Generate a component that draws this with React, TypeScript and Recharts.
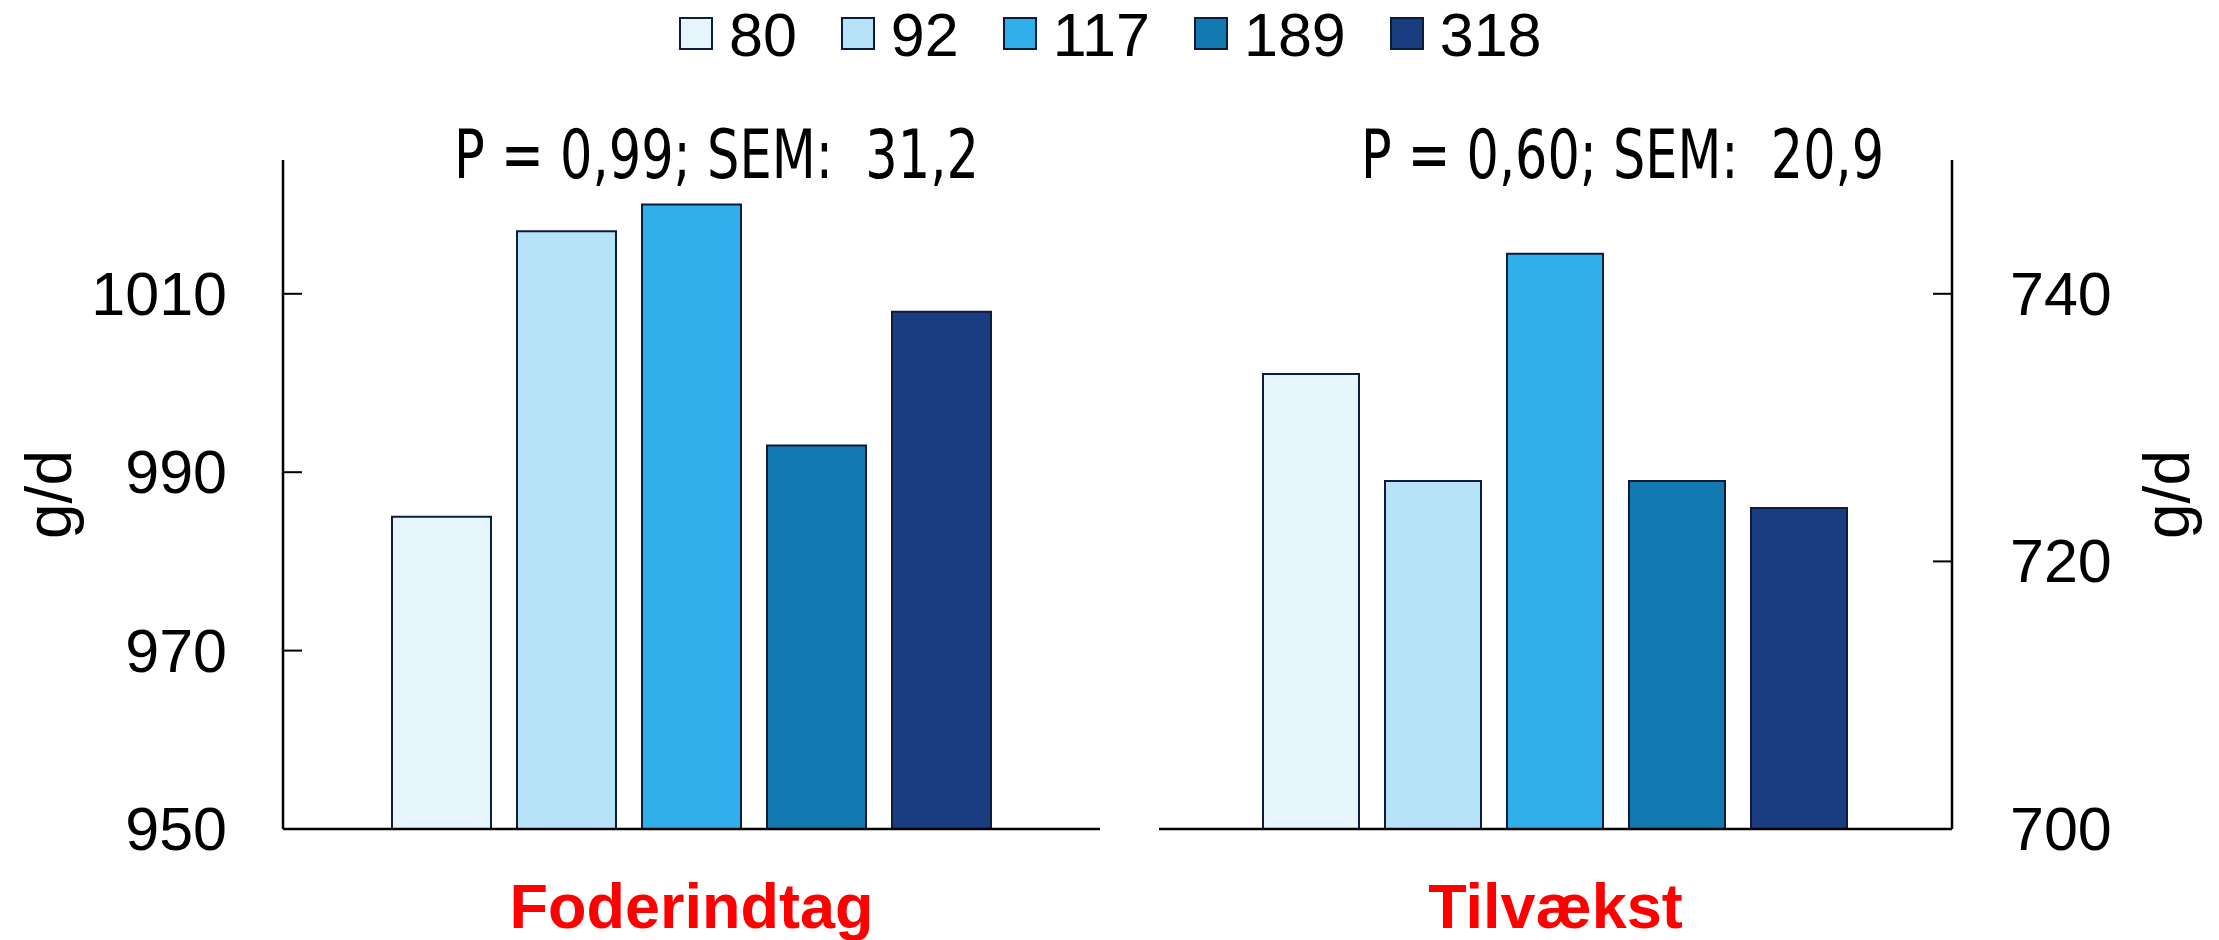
import React from 'react';
import { BarChart, Bar, XAxis, YAxis } from 'recharts';

// protein groups shown as the five bars in each panel
const GROUPS = ['80', '92', '117', '189', '318'];
const GROUP_COLORS = ['#E6F4FC', '#B5E2F7', '#31AFEA', '#127AB0', '#1A3C80'];

const FODERINDTAG = [985, 1017, 1020, 993, 1008];
const TILVAEKST = [734, 726, 743, 726, 724];

const FODER_TICKS = [950, 970, 990, 1010];
const TILV_TICKS = [700, 720, 740];
const FODER_DOMAIN: [number, number] = [950, 1025];
const TILV_DOMAIN: [number, number] = [700, 750];

const PANEL_NAMES = ['Foderindtag', 'Tilvækst'];
const STAT_LABELS = ['P = 0,99; SEM:  31,2', 'P = 0,60; SEM:  20,9'];
const UNIT = 'g/d';

const OUTLINE = '#0F1B3B';
const ARIAL = '"Liberation Sans", Arial, sans-serif';
const NARROW = '"Liberation Sans Narrow", "Arial Narrow", "DejaVu Sans Condensed", sans-serif';

function toRows(name: string, values: number[]) {
  const row: Record<string, string | number> = { name };
  GROUPS.forEach((g, i) => {
    row[`g${g}`] = values[i];
  });
  return [row];
}

// value tick: label outside, short tick line pointing into the plot
function ValueTick(props: any) {
  const { x, y, payload, side, gap } = props;
  const left = side === 'left';
  const axisX = left ? x + gap : x - gap;
  return (
    <g>
      <line x1={axisX} x2={left ? axisX + 19 : axisX - 19} y1={y} y2={y} stroke="#000" strokeWidth={2} />
      <text
        x={x}
        y={y}
        dy={21}
        textAnchor={left ? 'end' : 'start'}
        fontSize={61}
        fontFamily={ARIAL}
        fill="#000"
      >
        {payload.value}
      </text>
    </g>
  );
}

function CategoryTick(props: any) {
  const { x, y, payload } = props;
  return (
    <text x={x} y={y} textAnchor="middle" fontSize={63} fontWeight="bold" fontFamily={ARIAL} fill="#FF0000">
      {payload.value}
    </text>
  );
}

const unitLabel = (dx: number) => (props: any) => {
  const { viewBox } = props;
  const cx = viewBox.x + dx;
  const cy = viewBox.y + viewBox.height / 2;
  return (
    <text
      x={cx}
      y={cy}
      transform={`rotate(-90 ${cx} ${cy})`}
      textAnchor="middle"
      dominantBaseline="central"
      fontSize={64}
      fontFamily={ARIAL}
      fill="#000"
    >
      {UNIT}
    </text>
  );
};

interface PanelProps {
  name: string;
  values: number[];
  domain: [number, number];
  ticks: number[];
  side: 'left' | 'right';
  width: number;
  margin: { top: number; right: number; bottom: number; left: number };
  axisWidth: number;
  tickGap: number;
  unitDx: number;
  categoryGap: number;
}

function Panel(p: PanelProps) {
  const data = toRows(p.name, p.values);
  return (
    <BarChart width={p.width} height={940} data={data} margin={p.margin} barGap={26} barCategoryGap={p.categoryGap}>
      <XAxis
        dataKey="name"
        type="category"
        height={111}
        interval={0}
        tickSize={0}
        tickMargin={99}
        tickLine={false}
        axisLine={{ stroke: '#000', strokeWidth: 2.5 }}
        tick={<CategoryTick />}
      />
      <YAxis
        orientation={p.side}
        width={p.axisWidth}
        domain={p.domain}
        ticks={p.ticks}
        interval={0}
        allowDataOverflow
        tickSize={0}
        tickMargin={p.tickGap}
        tickLine={false}
        axisLine={{ stroke: '#000', strokeWidth: 2.5 }}
        tick={<ValueTick side={p.side} gap={p.tickGap} />}
        label={{ content: unitLabel(p.unitDx) }}
      />
      {GROUPS.map((g, i) => (
        <Bar
          key={g}
          dataKey={`g${g}`}
          fill={GROUP_COLORS[i]}
          stroke={OUTLINE}
          strokeWidth={2}
          isAnimationActive={false}
        />
      ))}
    </BarChart>
  );
}

export default function App() {
  return (
    <div style={{ position: 'absolute', left: 0, top: 0, width: 2219, height: 940, background: '#fff', overflow: 'hidden' }}>
      <div style={{ position: 'absolute', left: 0, top: 0 }}>
        <Panel
          name={PANEL_NAMES[0]}
          values={FODERINDTAG}
          domain={FODER_DOMAIN}
          ticks={FODER_TICKS}
          side="left"
          width={1130}
          margin={{ top: 160, right: 30, bottom: 0, left: 0 }}
          axisWidth={283}
          tickGap={56}
          unitDx={49}
          categoryGap={109}
        />
      </div>
      <div style={{ position: 'absolute', left: 1130, top: 0 }}>
        <Panel
          name={PANEL_NAMES[1]}
          values={TILVAEKST}
          domain={TILV_DOMAIN}
          ticks={TILV_TICKS}
          side="right"
          width={1089}
          margin={{ top: 160, right: 0, bottom: 0, left: 29 }}
          axisWidth={267}
          tickGap={58}
          unitDx={215}
          categoryGap={104}
        />
      </div>

      {/* legend */}
      <div style={{ position: 'absolute', left: 679, top: 0, display: 'flex' }}>
        {GROUPS.map((g, i) => (
          <div key={g} style={{ display: 'flex', alignItems: 'flex-start', marginRight: 44 }}>
            <div
              style={{
                width: 30,
                height: 29,
                marginTop: 17,
                marginRight: 16,
                background: GROUP_COLORS[i],
                border: `2px solid ${OUTLINE}`,
              }}
            />
            <span style={{ fontFamily: ARIAL, fontSize: 61, lineHeight: '70px', color: '#000' }}>{g}</span>
          </div>
        ))}
      </div>

      {/* P-values and SEM above each panel */}
      <svg style={{ position: 'absolute', left: 0, top: 0 }} width={2219} height={200}>
        <text
          x={454}
          y={178}
          textLength={525}
          lengthAdjust="spacingAndGlyphs"
          fontSize={68}
          fontFamily={NARROW}
          fill="#000"
          style={{ whiteSpace: 'pre' }}
        >
          {STAT_LABELS[0]}
        </text>
        <text
          x={1361}
          y={178}
          textLength={523}
          lengthAdjust="spacingAndGlyphs"
          fontSize={68}
          fontFamily={NARROW}
          fill="#000"
          style={{ whiteSpace: 'pre' }}
        >
          {STAT_LABELS[1]}
        </text>
      </svg>
    </div>
  );
}
